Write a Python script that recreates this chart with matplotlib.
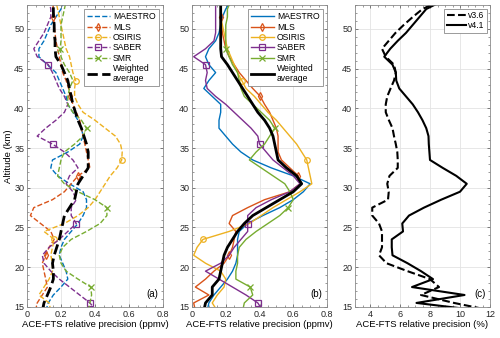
import matplotlib
matplotlib.use('Agg')
import matplotlib.pyplot as plt
from matplotlib.ticker import MultipleLocator

plt.rcParams['font.family'] = ['Liberation Sans', 'DejaVu Sans']

# altitude grid (km)
alt = [14.5, 15.5, 16.5, 17.5, 18.5, 19.5, 20.5, 21.5, 22.5, 23.5,
       24.5, 25.5, 26.5, 27.5, 28.5, 29.5, 30.5, 31.5, 32.5, 33.5,
       34.5, 35.5, 36.5, 37.5, 38.5, 39.5, 40.5, 41.5, 42.5, 43.5,
       44.5, 45.5, 46.5, 47.5, 48.5, 49.5, 50.5, 51.5, 52.5, 53.5]

# panel (a)
maestro_a = [0.11, 0.125, 0.155, 0.2, 0.24, 0.23, 0.21, 0.19, 0.2, 0.22,
             0.26, 0.3, 0.33, 0.35, 0.35, 0.33, 0.25, 0.18, 0.14, 0.15,
             0.24, 0.31, 0.33, 0.32, 0.3, 0.27, 0.24, 0.23, 0.21, 0.19,
             0.17, 0.12, 0.07, 0.07, 0.1, 0.12, 0.14, 0.17, 0.2, 0.22]
mls_a = [0.05, 0.06, 0.09, 0.12, 0.11, 0.1, 0.09, 0.11, 0.13, 0.16,
         0.14, 0.08, 0.02, 0.04, 0.15, 0.22, 0.26, 0.3, 0.37, 0.36,
         0.35, 0.34, 0.33, 0.32, 0.31, 0.29, 0.27, 0.255, 0.245, 0.23,
         0.21, 0.2, 0.19, 0.18, 0.17, 0.165, 0.16, 0.155, 0.155, 0.15]
osiris_a = [0.14, 0.13, 0.07, 0.1, 0.13, 0.15, 0.15, 0.14, 0.15, 0.16,
            0.1, 0.22, 0.3, 0.36, 0.4, 0.43, 0.46, 0.49, 0.53, 0.557,
            0.56, 0.55, 0.52, 0.46, 0.4, 0.33, 0.3, 0.28, 0.28, 0.286,
            0.27, 0.26, 0.25, 0.23, 0.22, 0.21, 0.2, 0.19, 0.18, 0.17]
saber_a = [0.41, 0.37, 0.31, 0.25, 0.19, 0.14, 0.1, 0.09, 0.13, 0.19,
           0.24, 0.29, 0.26, 0.26, 0.29, 0.27, 0.23, 0.25, 0.3, 0.27,
           0.22, 0.15, 0.06, 0.11, 0.17, 0.22, 0.24, 0.22, 0.19, 0.17,
           0.15, 0.125, 0.06, 0.04, 0.07, 0.1, 0.12, 0.14, 0.14, 0.13]
smr_a = [0.36, 0.37, 0.38, 0.375, 0.3, 0.23, 0.2, 0.19, 0.21, 0.26,
         0.35, 0.43, 0.47, 0.47, 0.4, 0.3, 0.22, 0.18, 0.19, 0.2,
         0.22, 0.28, 0.33, 0.35, 0.32, 0.27, 0.24, 0.24, 0.25, 0.27,
         0.25, 0.22, 0.2, 0.195, 0.2, 0.2, 0.2, 0.21, 0.22, 0.23]
wavg_a = [0.09, 0.1, 0.12, 0.14, 0.155, 0.155, 0.15, 0.16, 0.175, 0.19,
          0.2, 0.21, 0.22, 0.25, 0.28, 0.29, 0.3, 0.33, 0.36, 0.36,
          0.36, 0.35, 0.335, 0.32, 0.3, 0.285, 0.27, 0.26, 0.25, 0.24,
          0.22, 0.2, 0.17, 0.165, 0.165, 0.16, 0.16, 0.156, 0.155, 0.155]

# panel (b)
maestro_b = [0.09, 0.1, 0.13, 0.17, 0.21, 0.24, 0.26, 0.27, 0.27, 0.27,
             0.28, 0.33, 0.42, 0.52, 0.6, 0.66, 0.7, 0.6, 0.47, 0.36,
             0.29, 0.24, 0.2, 0.16, 0.16, 0.17, 0.17, 0.12, 0.07, 0.1,
             0.14, 0.1, 0.08, 0.1, 0.14, 0.16, 0.17, 0.18, 0.2, 0.23]
mls_b = [0.02, 0.01, 0.1, 0.02, 0.08, 0.13, 0.19, 0.22, 0.24, 0.25,
         0.26, 0.22, 0.24, 0.33, 0.43, 0.58, 0.64, 0.63, 0.58, 0.53,
         0.51, 0.51, 0.51, 0.5, 0.48, 0.46, 0.43, 0.405, 0.36, 0.32,
         0.28, 0.25, 0.22, 0.2, 0.19, 0.18, 0.175, 0.17, 0.17, 0.17]
osiris_b = [0.15, 0.12, 0.15, 0.19, 0.2, 0.17, 0.08, 0.01, 0.03, 0.065,
            0.22, 0.34, 0.41, 0.48, 0.56, 0.64, 0.71, 0.7, 0.69, 0.68,
            0.65, 0.62, 0.58, 0.54, 0.5, 0.45, 0.41, 0.37, 0.32, 0.295,
            0.27, 0.25, 0.23, 0.21, 0.2, 0.19, 0.18, 0.17, 0.17, 0.17]
saber_b = [0.42, 0.39, 0.32, 0.24, 0.16, 0.08, 0.17, 0.22, 0.25, 0.29,
           0.33, 0.33, 0.33, 0.38, 0.47, 0.58, 0.64, 0.6, 0.54, 0.48,
           0.44, 0.4, 0.39, 0.35, 0.3, 0.25, 0.2, 0.14, 0.09, 0.08,
           0.09, 0.08, 0.01, 0.08, 0.13, 0.14, 0.14, 0.14, 0.14, 0.14]
smr_b = [0.3, 0.31, 0.36, 0.345, 0.26, 0.26, 0.27, 0.27, 0.28, 0.32,
         0.38, 0.45, 0.52, 0.57, 0.6, 0.58, 0.55, 0.48, 0.41, 0.34,
         0.38, 0.43, 0.46, 0.49, 0.46, 0.41, 0.36, 0.31, 0.29, 0.28,
         0.27, 0.24, 0.22, 0.2, 0.2, 0.2, 0.2, 0.21, 0.21, 0.23]
wavg_b = [0.07, 0.08, 0.12, 0.12, 0.16, 0.17, 0.18, 0.19, 0.21, 0.24,
          0.27, 0.31, 0.36, 0.44, 0.52, 0.6, 0.65, 0.62, 0.56, 0.51,
          0.5, 0.49, 0.48, 0.46, 0.43, 0.39, 0.36, 0.33, 0.3, 0.27,
          0.24, 0.21, 0.175, 0.17, 0.17, 0.17, 0.17, 0.17, 0.17, 0.17]

# panel (c)
v36 = [12.2, 9.6, 7.4, 8.6, 8.0, 6.5, 5.1, 4.6, 4.8, 4.8,
       4.8, 4.6, 4.15, 4.15, 5.2, 5.25, 5.15, 5.3, 5.85, 5.85,
       5.82, 5.72, 5.6, 5.5, 5.26, 5.05, 5.05, 5.15, 5.37, 5.6,
       5.72, 5.6, 5.05, 4.8, 5.25, 5.7, 6.25, 6.85, 7.5, 8.6]
v41 = [11.5, 7.1, 10.3, 6.8, 8.2, 7.4, 6.5, 5.5, 5.45, 5.45,
       6.2, 6.15, 6.6, 7.6, 8.75, 10.0, 10.45, 9.75, 8.85, 8.0,
       7.96, 7.92, 7.9, 7.75, 7.5, 7.2, 6.85, 6.4, 5.95, 5.75,
       5.72, 5.5, 4.95, 5.35, 5.85, 6.4, 6.85, 7.3, 7.75, 8.8]

names = ['MAESTRO', 'MLS', 'OSIRIS', 'SABER', 'SMR']
colors = ['#0072BD', '#D95319', '#EDB120', '#7E2F8E', '#77AC30']
markers = [None, 'd', 'o', 's', 'x']
mark_start = [0, 7, 9, 1, 3]

fig = plt.figure(figsize=(5, 3.38), dpi=100)
ax_a = fig.add_axes([0.054, 0.092, 0.272, 0.893])
ax_b = fig.add_axes([0.384, 0.092, 0.270, 0.893])
ax_c = fig.add_axes([0.710, 0.092, 0.270, 0.893])


def style_axes(ax):
    ax.set_ylim(15, 53)
    ax.yaxis.set_major_locator(MultipleLocator(5))
    ax.yaxis.set_minor_locator(MultipleLocator(1))
    ax.grid(True, which='major', color='#e3e3e3', lw=0.6)
    ax.set_axisbelow(True)
    ax.tick_params(which='both', direction='in', top=True, right=True,
                   labelsize=6.5, colors='#4d4d4d', labelcolor='#262626', pad=2)
    ax.tick_params(which='major', length=2.5, width=0.5)
    ax.tick_params(which='minor', length=1.5, width=0.4)
    for s in ax.spines.values():
        s.set_color('#8a8a8a')
        s.set_linewidth(0.6)


# (a) and (b)
for ax, series, wavg, ls, tag in [
        (ax_a, [maestro_a, mls_a, osiris_a, saber_a, smr_a], wavg_a, '--', '(a)'),
        (ax_b, [maestro_b, mls_b, osiris_b, saber_b, smr_b], wavg_b, '-', '(b)')]:
    for vals, name, c, m, st in zip(series, names, colors, markers, mark_start):
        ax.plot(vals, alt, ls=ls, color=c, lw=1.0, marker=m, ms=4,
                mfc='none', mew=0.9, markevery=(st, 10), label=name)
    ax.plot(wavg, alt, ls=ls, color='k', lw=2.0, label='Weighted\naverage')
    ax.set_xlim(0, 0.8)
    ax.xaxis.set_major_locator(MultipleLocator(0.2))
    ax.xaxis.set_minor_locator(MultipleLocator(0.05))
    ax.set_xticklabels(['0', '0.2', '0.4', '0.6', '0.8'])
    ax.set_xticks([0, 0.2, 0.4, 0.6, 0.8])
    ax.set_xticklabels(['0', '0.2', '0.4', '0.6', '0.8'])
    style_axes(ax)
    ax.set_xlabel('ACE-FTS relative precision (ppmv)', fontsize=6.8, labelpad=1)
    leg = ax.legend(loc='upper right', fontsize=6.2, frameon=True, fancybox=False,
                    framealpha=1, edgecolor='#8a8a8a', handlelength=2.6,
                    borderpad=0.35, labelspacing=0.15, handletextpad=0.4,
                    borderaxespad=0.5)
    leg.get_frame().set_linewidth(0.6)
    ax.text(0.965, 0.025, tag, transform=ax.transAxes, ha='right', va='bottom',
            fontsize=7)

ax_a.set_ylabel('Altitude (km)', fontsize=6.8, labelpad=1)

# (c)
ax_c.plot(v36, alt, 'k--', lw=1.5, label='v3.6')
ax_c.plot(v41, alt, 'k-', lw=1.5, label='v4.1')
ax_c.set_xlim(3, 12)
ax_c.set_xticks([4, 6, 8, 10, 12])
ax_c.xaxis.set_minor_locator(MultipleLocator(0.5))
style_axes(ax_c)
ax_c.set_xlabel('ACE-FTS relative precision (%)', fontsize=6.8, labelpad=1)
leg = ax_c.legend(loc='upper right', fontsize=6.2, frameon=True, fancybox=False,
                  framealpha=1, edgecolor='#8a8a8a', handlelength=2.2,
                  borderpad=0.3, labelspacing=0.15, handletextpad=0.2,
                  borderaxespad=0.4)
leg.get_frame().set_linewidth(0.6)
ax_c.text(0.965, 0.025, '(c)', transform=ax_c.transAxes, ha='right', va='bottom',
          fontsize=7)

fig.savefig('out.png', dpi=100)
